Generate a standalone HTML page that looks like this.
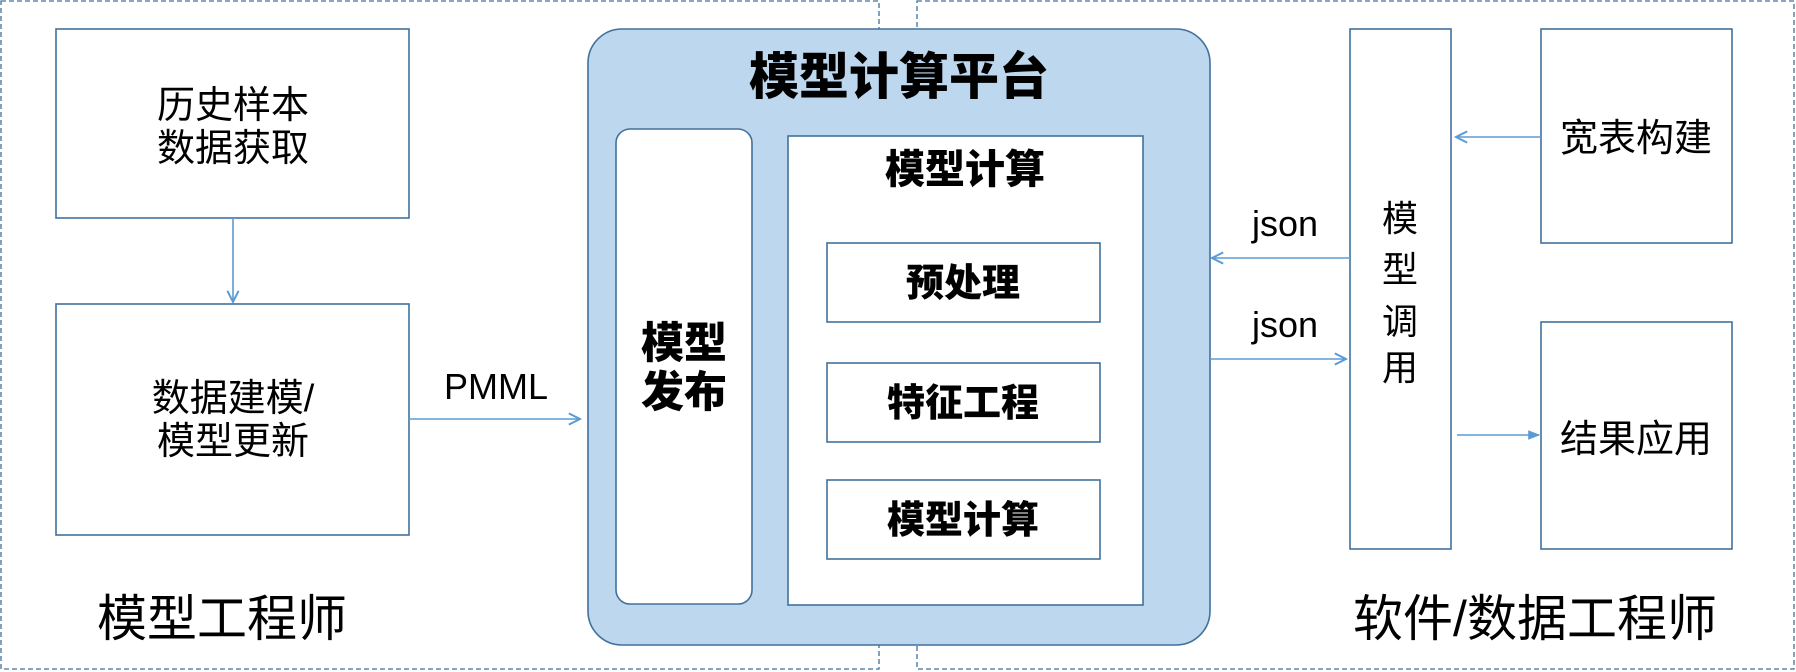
<!DOCTYPE html>
<html><head><meta charset="utf-8"><style>
html,body{margin:0;padding:0;background:#fff;}
svg{display:block;}
text{font-family:"Liberation Sans","Noto Sans CJK SC",sans-serif;fill:#000;}
.b{font-weight:900;}
</style></head><body>
<svg width="1796" height="672" viewBox="0 0 1796 672" xmlns="http://www.w3.org/2000/svg">
<defs>
<marker id="op" viewBox="0 0 10 10" refX="9" refY="5" markerWidth="14" markerHeight="14" markerUnits="userSpaceOnUse" orient="auto"><path d="M1,1 L9,5 L1,9" fill="none" stroke="#5b9bd5" stroke-width="1.4"/></marker>
<marker id="fi" viewBox="0 0 10 10" refX="9" refY="5" markerWidth="12" markerHeight="12" markerUnits="userSpaceOnUse" orient="auto"><path d="M0,1 L10,5 L0,9 Z" fill="#5b9bd5"/></marker>
</defs>
<g fill="none" stroke="#41719c" stroke-width="1.3" stroke-dasharray="5,3">
<rect x="1" y="1" width="878" height="668"/>
<rect x="917" y="1" width="877" height="668"/>
</g>
<g fill="#fff" stroke="#41719c" stroke-width="1.6">
<rect x="56" y="29" width="353" height="189"/>
<rect x="56" y="304" width="353" height="231"/>
<rect x="588" y="29" width="622" height="616" rx="34" fill="#bdd7ee"/>
<rect x="616" y="129" width="136" height="475" rx="14"/>
<rect x="788" y="136" width="355" height="469"/>
<rect x="827" y="243" width="273" height="79"/>
<rect x="827" y="363" width="273" height="79"/>
<rect x="827" y="480" width="273" height="79"/>
<rect x="1350" y="29" width="101" height="520"/>
<rect x="1541" y="29" width="191" height="214"/>
<rect x="1541" y="322" width="191" height="227"/>
</g>
<g stroke="#5b9bd5" stroke-width="1.6" fill="none">
<line x1="233" y1="218" x2="233" y2="302" marker-end="url(#op)"/>
<line x1="409" y1="419" x2="580" y2="419" marker-end="url(#op)"/>
<line x1="1350" y1="258" x2="1212" y2="258" marker-end="url(#op)"/>
<line x1="1210" y1="359" x2="1346" y2="359" marker-end="url(#op)"/>
<line x1="1541" y1="137" x2="1456" y2="137" marker-end="url(#op)"/>
<line x1="1457" y1="435" x2="1539" y2="435" marker-end="url(#fi)"/>
</g>
<g font-size="38" text-anchor="middle">
<text x="233" y="118">历史样本</text>
<text x="233" y="161">数据获取</text>
<text x="233" y="411">数据建模/</text>
<text x="233" y="454">模型更新</text>
<text x="1636" y="151">宽表构建</text>
<text x="1636" y="452">结果应用</text>
<text x="1400" y="231" font-size="36">模</text>
<text x="1400" y="282" font-size="36">型</text>
<text x="1400" y="334" font-size="36">调</text>
<text x="1400" y="380" font-size="36">用</text>
<text x="1285" y="236" font-size="36">json</text>
<text x="1285" y="337" font-size="36">json</text>
<text x="496" y="399" font-size="36">PMML</text>
</g>
<g text-anchor="middle" class="b">
<text x="899" y="94" font-size="50" class="b">模型计算平台</text>
<text x="965" y="183" font-size="40" class="b">模型计算</text>
<text x="684" y="358" font-size="43" class="b">模型</text>
<text x="684" y="407" font-size="43" class="b">发布</text>
<text x="963" y="296" font-size="38" class="b">预处理</text>
<text x="963" y="416" font-size="38" class="b">特征工程</text>
<text x="963" y="533" font-size="38" class="b">模型计算</text>
</g>
<g font-size="50" text-anchor="middle">
<text x="222" y="636">模型工程师</text>
<text x="1535" y="636">软件/数据工程师</text>
</g>
</svg>
</body></html>
